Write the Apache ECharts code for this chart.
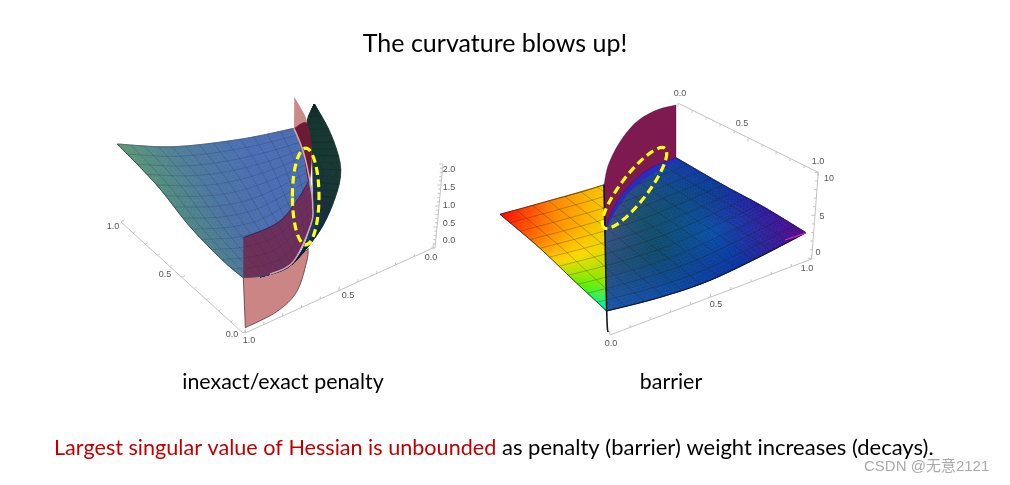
<!DOCTYPE html>
<html><head><meta charset="utf-8">
<style>html,body{margin:0;padding:0;background:#fff}#c{width:1010px;height:485px}</style>
<script src="https://cdn.jsdelivr.net/npm/echarts@6/dist/echarts.min.js"></script>
</head><body><div id="c"></div>
<script>
// ---------- text ----------
const titleText = 'The curvature blows up!';
const captionLeft = 'inexact/exact penalty';
const captionRight = 'barrier';
const noteRed = 'Largest singular value of Hessian is unbounded';
const noteBlack = 'as penalty (barrier) weight increases (decays).';
const watermark = 'CSDN @无意2121';
// ---------- tick labels [x, y, text] ----------
const penaltyTickLabels = [[113,227,'1.0'],[165,275,'0.5'],[232,335,'0.0'],[249,341,'1.0'],[348,296,'0.5'],[431,258,'0.0'],
  [449,170,'2.0'],[449,188,'1.5'],[449,206,'1.0'],[449,224,'0.5'],[449,241,'0.0']];
const barrierTickLabels = [[680,94,'0.0'],[742,124,'0.5'],[818,162,'1.0'],[829,179,'10'],[822,217,'5'],[818,253,'0'],
  [807,269,'1.0'],[716,305,'0.5'],[611,344,'0.0']];
// ---------- box axes ----------
const penaltyAxisA = [[121,222],[243,333]];
const penaltyAxisB = [[245,333],[433,248]];
const penaltyAxisZ = [[435,248],[443,164]];
const barrierAxisA = [[678.3,103.3],[818.3,172.3]];
const barrierAxisZ = [[818.3,172.3],[811.7,258.3]];
const barrierAxisB = [[811.7,259],[610,335]];
// ---------- penalty: blue surface edges ----------
const blueTop = [[117.3,144],[173.3,146.7],[240,139.3],[294,128.3]];
const blueLeft = [[117.3,144],[156.7,185],[190,226.7],[223.3,261],[243.3,277.7]];
const blueRight = [[294,128.3],[303.3,151.7],[310,181.7],[312.7,205],[310.7,225]];
const blueBottom = [[243.3,277.7],[270,274.3],[293.3,261.7],[310.7,225]];
const blueColors = [['#5c9a74','#4f7f98','#4a70b4','#4a6cb4'],['#4f8a80','#4a72a8','#4a6cb4','#4a6cb0'],['#4a7c96','#4a6ca8','#4a6cb0','#4a6cb0']];
// ---------- penalty: dark sheet ----------
const darkInner = [[314.3,104],[306.7,123],[311.7,148],[313,185],[312.7,205],[308.3,235],[293.3,261.7],[260,276.7]];
const darkOuter = [[314.3,104],[328.3,128.3],[338.3,155],[340.7,175],[335,198.3],[323.3,225],[306.7,248.3],[286.7,268.3],[260,277]];
const darkColors = [['#1a3a30','#1a3a30','#1a3a30'],['#143a2e','#163a30','#1a3a30'],['#1c3050','#1a3040','#16382e'],['#3d68a8','#20488a','#14284c'],['#8fa8d0','#2a5898','#10305a']];
// ---------- penalty: red/pink sheet pieces ----------
const overlayUpper = [[243.3,237.7],[276.7,223.3],[295,203.3],[308.3,181.7]];
const overlayLower = [[308.3,181.7],[312.7,205],[310.7,225],[293.3,261.7],[270,274.3],[243.3,277.7]];
const pinkFoot = [[243.3,277.7],[245.3,327.7]];
const pinkArc = [[245.3,327.7],[276.7,311.7],[296.7,291.7],[306.7,261.7],[308.3,248.3]];
const pinkBack = [[308.3,248.3],[293.3,261.7],[270,274.3],[243.3,277.7]];
const pinkTip = [[294.3,96.7],[307,122],[294,128.3]];
const redNeck = [[294,128.3],[306.7,123],[311.7,148],[310.7,175],[308.3,181.7],[303.3,151.7]];
const pinkSeam = [[294,128.3],[303.3,151.7],[310,181.7],[312.7,205],[310.7,225],[293.3,261.7],[270,274.3]];
// ---------- barrier: surface edges ----------
const floorTop = [[500,214.3],[540,203.3],[603.3,185],[676,157.7]];
const floorLeft = [[500,214.3],[540,248.3],[573.3,280],[606.7,311]];
const floorRight = [[676,157.7],[723.3,185],[763.3,206.7],[806,232.7]];
const floorBottom = [[606.7,311],[656.7,298.3],[706.7,281.7],[756.7,258.3],[806,232.7]];
const rainbowTop = [[500,214.3],[540,203.3],[603.3,185]];
const rainbowRight = [[603.3,185],[604,226.7],[605.7,268],[606.7,311]];
const rainbowBottom = [[606.7,311],[606.7,311]];
const blueFloorTop = [[603.3,185],[676,157.7]];
const rainbowColors = [['#ff0000','#ff8000','#f8c800'],['#ff6000','#ff9c00','#f4c800'],['#ffd000','#ffd800','#e8d800'],['#50f000','#70f000','#a0e000'],['#00f0c0','#00f0c0','#00f0c0']];
const blueFloorColors = [['#3c3f8a','#2e4a88','#15489a','#1038a8'],['#3e5084','#16506c','#0c4a80','#0a3a9c'],['#27507c','#0e4a6c','#0a50a8','#2a1aa0'],['#1a55a8','#0e48a4','#0a30a0','#5a0a8c']];
// ---------- barrier: maroon sheet ----------
const maroonTop = [[676,105],[656.7,110],[636.7,121.7],[620,141.7],[608.3,165],[604,185]];
const maroonLeft = [[604,185],[605,228.3]];
const maroonBase = [[605,228.3],[615,205],[630,185],[650,168.3],[676,157.7]];
const violetLower = [[607.7,226.7],[618.3,206.7],[633.3,188.3],[653.3,173.3],[676,161]];
const spine = [[604,185],[606.7,311],[608,332]];
const magentaTrace = [[785,240],[800,235],[806,232.7]];
// ---------- annotations [cx, cy, rx, ry, angle] ----------
const ringPenalty = [305.7,196.5,13.3,48.3,0];
const ringBarrier = [634.5,188,50,13.5,52.5];

// ---------- helpers ----------
function curve(p){
  if(p.length<3) return p.slice();
  const o=[];
  for(let i=0;i<p.length-1;i++){
    const a=p[Math.max(i-1,0)],b=p[i],c=p[i+1],d=p[Math.min(i+2,p.length-1)];
    for(let k=0;k<10;k++){const t=k/10,t2=t*t,t3=t2*t;
      o.push([0,1].map(j=>0.5*(2*b[j]+(c[j]-a[j])*t+(2*a[j]-5*b[j]+4*c[j]-d[j])*t2+(3*b[j]-a[j]-3*c[j]+d[j])*t3)));}
  }
  o.push(p[p.length-1]);return o;
}
function sampler(p){
  const q=curve(p),L=[0];
  for(let i=1;i<q.length;i++)L.push(L[i-1]+Math.hypot(q[i][0]-q[i-1][0],q[i][1]-q[i-1][1]));
  const T=L[L.length-1];
  return u=>{ if(T===0)return q[0]; const s=u*T;let i=1;while(i<q.length-1&&L[i]<s)i++;
    const f=(s-L[i-1])/((L[i]-L[i-1])||1);return [q[i-1][0]+(q[i][0]-q[i-1][0])*f,q[i-1][1]+(q[i][1]-q[i-1][1])*f];};
}
function patch(top,bottom,left,right){
  const T=sampler(top),B=sampler(bottom),Le=sampler(left),R=sampler(right);
  const c00=T(0),c10=T(1),c01=B(0),c11=B(1);
  return (u,v)=>[0,1].map(j=>(1-v)*T(u)[j]+v*B(u)[j]+(1-u)*Le(v)[j]+u*R(v)[j]
    -((1-u)*(1-v)*c00[j]+u*(1-v)*c10[j]+(1-u)*v*c01[j]+u*v*c11[j]));
}
const hex=h=>[1,3,5].map(i=>parseInt(h.substr(i,2),16));
function colorAt(tb,u,v){
  const rf=v*(tb.length-1),r=Math.min(Math.floor(rf),tb.length-2),cf=u*(tb[0].length-1),c=Math.min(Math.floor(cf),tb[0].length-2);
  const fr=rf-r,fc=cf-c,a=hex(tb[r][c]),b=hex(tb[r][c+1]),d=hex(tb[r+1][c]),e=hex(tb[r+1][c+1]);
  return 'rgb('+[0,1,2].map(i=>Math.round((1-fr)*((1-fc)*a[i]+fc*b[i])+fr*((1-fc)*d[i]+fc*e[i]))).join(',')+')';
}
function layer(build){
  return {type:'custom',coordinateSystem:'cartesian2d',clip:false,silent:true,animation:false,data:[[0,0]],encode:{x:0,y:1},
    renderItem:(p,api)=>({type:'group',children:build(pt=>api.coord(pt),api)})};
}
const fill=(S,tb,n)=>layer(c=>{const o=[];
  for(let i=0;i<n;i++)for(let j=0;j<n;j++){
    const u0=i/n,u1=(i+1)/n,v0=j/n,v1=(j+1)/n,col=colorAt(tb,(u0+u1)/2,(v0+v1)/2);
    o.push({type:'polygon',shape:{points:[S(u0,v0),S(u1,v0),S(u1,v1),S(u0,v1)].map(c)},style:{fill:col,stroke:col,lineWidth:0.7}});
  } return o;});
const mesh=(S,count,color,w)=>layer(c=>{const o=[];const st={stroke:color,lineWidth:w,fill:null};
  for(let i=0;i<=count;i++){const a=[],b=[];
    for(let k=0;k<=24;k++){a.push(c(S(i/count,k/24)));b.push(c(S(k/24,i/count)));}
    o.push({type:'polyline',shape:{points:a},style:st},{type:'polyline',shape:{points:b},style:st});
  } return o;});
const poly=(segs,fillC,stroke,w)=>layer(c=>{let pts=[];segs.forEach(s=>pts=pts.concat(curve(s)));
  return [{type:'polygon',shape:{points:pts.map(c)},style:{fill:fillC,stroke:stroke||null,lineWidth:w||0}}];});
const line=(p,stroke,w)=>layer(c=>[{type:'polyline',shape:{points:curve(p).map(c)},style:{stroke:stroke,lineWidth:w,fill:null}}]);
const lineShape=(a,b)=>({x1:a[0],y1:a[1],x2:b[0],y2:b[1]});
const axisLayer=(ax,n,major,d)=>layer(c=>{const o=[{type:'line',shape:lineShape(c(ax[0]),c(ax[1])),style:{stroke:'#c4c4c4',lineWidth:1}}];
  for(let i=0;i<=n;i++){const f=i/n,x=ax[0][0]+(ax[1][0]-ax[0][0])*f,y=ax[0][1]+(ax[1][1]-ax[0][1])*f,m=i%major===0?1.5:1;
    o.push({type:'line',shape:lineShape(c([x,y]),c([x+d[0]*m,y+d[1]*m])),style:{stroke:'#c4c4c4',lineWidth:1}});}
  return o;});
const ring=r=>layer(c=>{const p=c([r[0],r[1]]);return [{type:'ellipse',x:p[0],y:p[1],rotation:r[4]*Math.PI/180,shape:{cx:0,cy:0,rx:r[2],ry:r[3]},
  style:{fill:null,stroke:'#ffff10',lineWidth:3.2,lineDash:[8,4.5]}}];});
const texts=(items,size,color,family,align)=>layer(c=>items.map(t=>{const p=c([t[0],t[1]]);
  return {type:'text',x:p[0],y:p[1],style:{text:t[2],fontSize:size,fontFamily:family,fill:color,align:align||'center',verticalAlign:'middle'}};}));

const blueS=patch(blueTop,blueBottom,blueLeft,blueRight);
const darkS=patch([darkInner[0],darkOuter[0]],[darkInner[darkInner.length-1],darkOuter[darkOuter.length-1]],darkInner,darkOuter);
const floorS=patch(floorTop,floorBottom,floorLeft,floorRight);
const rainS=patch(rainbowTop,rainbowBottom,floorLeft,rainbowRight);
const deepS=patch(blueFloorTop,floorBottom,rainbowRight,floorRight);
const SANS='"Liberation Sans",Arial,sans-serif', BODY='Lato,"Open Sans",sans-serif';

const series=[
  axisLayer(penaltyAxisA,10,5,[2.2,-1.4]),axisLayer(penaltyAxisB,10,5,[0.2,-2.5]),axisLayer(penaltyAxisZ,20,5,[-2.5,0]),
  axisLayer(barrierAxisA,10,5,[-0.4,2.5]),axisLayer(barrierAxisZ,10,5,[-2.5,0]),axisLayer(barrierAxisB,10,5,[-0.3,-2.5]),
  // penalty surfaces
  poly([pinkFoot,pinkArc,pinkBack],'#cc8585','rgba(60,20,40,.8)',0.8),
  fill(darkS,darkColors,30),mesh(darkS,15,'rgba(10,30,40,.3)',0.5),
  fill(blueS,blueColors,36),mesh(blueS,13,'rgba(35,50,80,.42)',0.6),
  line(blueTop,'rgba(90,90,110,.6)',0.8),line(blueLeft,'rgba(40,50,70,.7)',0.8),
  poly([overlayUpper,overlayLower],'rgba(125,15,50,.66)',null),
  line(overlayUpper,'rgba(40,20,60,.8)',0.8),
  poly([pinkTip],'#c98a88'),
  poly([redNeck],'#6d1a35'),
  line(pinkSeam,'#d8a6aa',1.5),
  // barrier surfaces
  fill(deepS,blueFloorColors,40),fill(rainS,rainbowColors,40),
  mesh(floorS,11,'rgba(30,30,20,.45)',0.6),
  line(floorTop,'rgba(40,30,30,.7)',0.8),line(floorLeft,'rgba(40,30,30,.8)',0.8),line(floorRight,'rgba(20,20,60,.8)',0.8),line(floorBottom,'#0a1020',1),
  line(magentaTrace,'#e020c0',1.2),
  poly([maroonBase,violetLower.slice().reverse()],'#2a2ac4'),
  poly([maroonTop,maroonLeft,maroonBase],'#7e1a50','rgba(40,10,40,.5)',0.6),
  line(spine,'#17141e',1.6),
  ring(ringPenalty),ring(ringBarrier),
  // text
  texts(penaltyTickLabels,9,'#555',SANS),texts(barrierTickLabels,9,'#555',SANS),
  texts([[495,44,titleText]],25,'#000',BODY),
  texts([[283,382,captionLeft]],21.4,'#000',BODY),texts([[671,382,captionRight]],21.4,'#000',BODY),
  texts([[54,448,noteRed]],21.6,'#c00000',BODY,'left'),texts([[502,448,noteBlack]],22,'#000',BODY,'left'),
  texts([[864,467,watermark]],15,'#aaa','"Liberation Sans","Noto Sans CJK SC",sans-serif','left')
];
const chart=echarts.init(document.getElementById('c'),null,{width:1010,height:485});
chart.setOption({animation:false,backgroundColor:'#fff',
  grid:{left:0,right:0,top:0,bottom:0},
  xAxis:{type:'value',min:0,max:1010,show:false},
  yAxis:{type:'value',min:0,max:485,inverse:true,show:false},
  series:series});
</script></body></html>
